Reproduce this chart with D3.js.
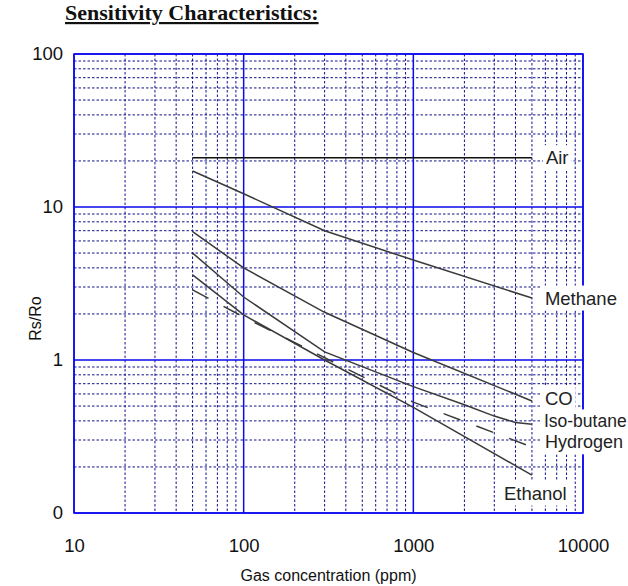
<!DOCTYPE html>
<html>
<head>
<meta charset="utf-8">
<script src="https://cdn.jsdelivr.net/npm/d3@7/dist/d3.min.js"></script>
<style>
  html, body { margin: 0; padding: 0; background: #fff; }
  svg { display: block; }
</style>
</head>
<body>
<svg id="chart" width="628" height="586"></svg>
<script>
// Tick values and labels
const xTickValues = [10, 100, 1000, 10000];
const xTickLabels = ["10", "100", "1000", "10000"];
const yTickValues = [100, 10, 1, 0.1];
const yTickLabels = ["100", "10", "1", "0"];

// Sensor response curves: gas concentration (ppm) vs Rs/Ro
const airPpm = [50, 5000];
const airRs = [21, 21];
const methanePpm = [50, 100, 300, 1000, 5000];
const methaneRs = [17.2, 12.2, 7.0, 4.5, 2.54];
const coPpm = [50, 100, 300, 1000, 5000];
const coRs = [6.9, 4.0, 2.05, 1.12, 0.54];
const isoButanePpm = [50, 100, 300, 1000, 2000, 3000, 4000, 5000];
const isoButaneRs = [5.0, 2.58, 1.13, 0.67, 0.51, 0.43, 0.39, 0.38];
const hydrogenPpm = [50, 100, 1000, 5000];
const hydrogenRs = [2.87, 1.91, 0.53, 0.27];
const ethanolPpm = [50, 100, 300, 1000, 5000];
const ethanolRs = [3.6, 1.97, 1.0, 0.49, 0.177];

const seriesNames = ["Air", "Methane", "CO", "Iso-butane", "Hydrogen", "Ethanol"];

const svg = d3.select("#chart");
const plotL = 74, plotR = 583, plotT = 54, plotB = 513;

const x = d3.scaleLog().domain([10, 10000]).range([plotL, plotR]);
const y = d3.scaleLog().domain([0.1, 100]).range([plotB, plotT]);

// Title
svg.append("text")
  .attr("x", 65).attr("y", 20)
  .attr("font-family", "Liberation Serif, Times New Roman, serif")
  .attr("font-weight", "bold")
  .attr("font-size", 22)
  .attr("fill", "#111")
  .attr("text-decoration", "underline")
  .text("Sensitivity Characteristics:");

// Minor grid lines (2..9 within each decade)
const minorX = [];
[10, 100, 1000].forEach(d => { for (let k = 2; k <= 9; k++) minorX.push(d * k); });
const minorY = [];
[0.1, 1, 10].forEach(d => { for (let k = 2; k <= 9; k++) minorY.push(+(d * k).toFixed(3)); });

const grid = svg.append("g");
grid.selectAll("line.mx").data(minorX).join("line")
  .attr("x1", d => x(d)).attr("x2", d => x(d))
  .attr("y1", plotT).attr("y2", plotB)
  .attr("stroke", "#10108c").attr("stroke-width", 1)
  .attr("stroke-dasharray", "2.5,2");
grid.selectAll("line.my").data(minorY).join("line")
  .attr("y1", d => y(d)).attr("y2", d => y(d))
  .attr("x1", plotL).attr("x2", plotR)
  .attr("stroke", "#10108c").attr("stroke-width", 1)
  .attr("stroke-dasharray", "2.5,2");

// Major decade lines
grid.selectAll("line.MX").data(xTickValues).join("line")
  .attr("x1", d => x(d)).attr("x2", d => x(d))
  .attr("y1", plotT).attr("y2", plotB)
  .attr("stroke", "#0a0aee").attr("stroke-width", 1.5);
grid.selectAll("line.MY").data(yTickValues).join("line")
  .attr("y1", d => y(d)).attr("y2", d => y(d))
  .attr("x1", plotL).attr("x2", plotR)
  .attr("stroke", "#0a0aee").attr("stroke-width", 1.5);

// Axes (labels only)
const xAxis = d3.axisBottom(x).tickValues(xTickValues)
  .tickFormat((d, i) => xTickLabels[i]).tickSize(0).tickPadding(0);
const gx = svg.append("g").attr("transform", `translate(0,${plotB})`).call(xAxis);
gx.select(".domain").remove();
gx.selectAll("text").attr("dy", 0).attr("y", 39)
  .attr("font-family", "Liberation Sans, Arial, sans-serif")
  .attr("font-size", 18.5).attr("fill", "#111");

const yAxis = d3.axisLeft(y).tickValues(yTickValues)
  .tickFormat((d, i) => yTickLabels[i]).tickSize(0).tickPadding(0);
const gy = svg.append("g").attr("transform", `translate(${plotL},0)`).call(yAxis);
gy.select(".domain").remove();
gy.selectAll("text").attr("x", -11).attr("dy", "0.28em")
  .attr("font-family", "Liberation Sans, Arial, sans-serif")
  .attr("font-size", 18.5).attr("fill", "#111");

// Axis titles
svg.append("text")
  .attr("x", (plotL + plotR) / 2).attr("y", 581)
  .attr("text-anchor", "middle")
  .attr("font-family", "Liberation Sans, Arial, sans-serif")
  .attr("font-size", 16).attr("fill", "#111")
  .text("Gas concentration (ppm)");
svg.append("text")
  .attr("transform", `translate(41,${(plotT + plotB) / 2 + 35}) rotate(-90)`)
  .attr("text-anchor", "middle")
  .attr("font-family", "Liberation Sans, Arial, sans-serif")
  .attr("font-size", 16).attr("fill", "#111")
  .text("Rs/Ro");

// Curves
const line = d3.line().x(d => x(d[0])).y(d => y(d[1]));
const zip = (a, b) => a.map((v, i) => [v, b[i]]);
const curves = [
  { pts: zip(airPpm, airRs), color: "#111", width: 1.6, dash: null },
  { pts: zip(methanePpm, methaneRs), color: "#3a3a3a", width: 1.5, dash: null },
  { pts: zip(coPpm, coRs), color: "#3a3a3a", width: 1.5, dash: null },
  { pts: zip(isoButanePpm, isoButaneRs), color: "#3a3a3a", width: 1.5, dash: null },
  { pts: zip(hydrogenPpm, hydrogenRs), color: "#3a3a3a", width: 1.5, dash: "18,17" },
  { pts: zip(ethanolPpm, ethanolRs), color: "#3a3a3a", width: 1.5, dash: null }
];
svg.append("g").selectAll("path").data(curves).join("path")
  .attr("d", d => line(d.pts))
  .attr("fill", "none")
  .attr("stroke", d => d.color)
  .attr("stroke-width", d => d.width)
  .attr("stroke-dasharray", d => d.dash);

// Plot border
svg.append("rect")
  .attr("x", plotL).attr("y", plotT)
  .attr("width", plotR - plotL).attr("height", plotB - plotT)
  .attr("fill", "none").attr("stroke", "#0a0aee").attr("stroke-width", 1.5);

// Curve labels with white backing
const labelPos = [
  { x: x(5000) + 14, y: y(airRs[airRs.length - 1]), size: 18.5 },
  { x: x(5000) + 13, y: y(methaneRs[methaneRs.length - 1]), size: 18.5 },
  { x: x(5000) + 13, y: y(coRs[coRs.length - 1]) - 2, size: 18.5 },
  { x: x(5000) + 12, y: y(isoButaneRs[isoButaneRs.length - 1]) - 3, size: 17.5 },
  { x: x(5000) + 13, y: y(hydrogenRs[hydrogenRs.length - 1]) - 5, size: 18 },
  { x: x(5000) - 28, y: y(ethanolRs[ethanolRs.length - 1]) + 18, size: 18.5 }
];
const lab = svg.append("g");
seriesNames.forEach((name, i) => {
  const g = lab.append("g");
  const bg = g.append("rect").attr("fill", "#fff");
  const t = g.append("text")
    .attr("x", labelPos[i].x).attr("y", labelPos[i].y)
    .attr("dy", "0.35em")
    .attr("font-family", "Liberation Sans, Arial, sans-serif")
    .attr("font-size", labelPos[i].size).attr("fill", "#222")
    .text(name);
  const b = t.node().getBBox();
  bg.attr("x", b.x - 3).attr("y", b.y - 2).attr("width", b.width + 6).attr("height", b.height + 4);
});
</script>
</body>
</html>
